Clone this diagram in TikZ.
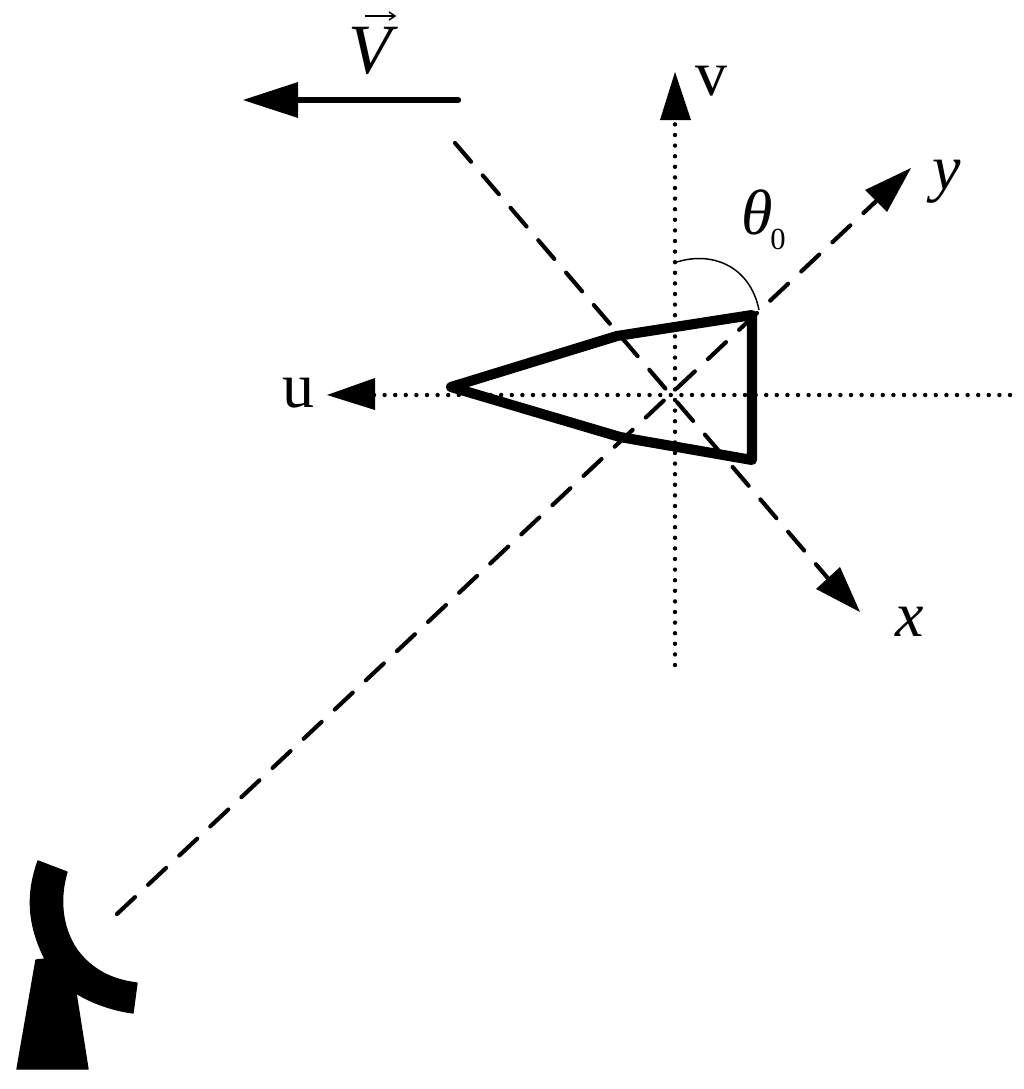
\documentclass[tikz,border=0pt]{standalone}
\usepackage{fontspec}
\setmainfont{Liberation Serif}
\usetikzlibrary{arrows.meta}
\tikzset{
  px/.style={x=0.75pt,y=-0.75pt},
  dashaxis/.style={line width=3.1pt,line cap=round,dash pattern=on 18.5pt off 13.5pt},
  dotaxis/.style={line width=3.3pt,line cap=round,dash pattern=on 0pt off 7.95pt},
  head/.style={fill=black,draw=none},
  lab/.style={inner sep=0pt,font=\fontsize{48}{48}\selectfont},
  wing/.style={line width=7.6pt,line join=round,line cap=round}
}
\begin{document}
\begin{tikzpicture}[px]
\useasboundingbox (0,0) rectangle (1024,1089);
\fill[white] (0,0) rectangle (1024,1089);
\coordinate (vTop) at (675,118);
\coordinate (vBot) at (675,665);
\coordinate (uL) at (372,395);
\coordinate (uR) at (1010,395);
\coordinate (yS) at (117,914);
\coordinate (yE) at (888,190);
\coordinate (xS) at (455,143);
\coordinate (xE) at (838,590);
% axes
\draw[dotaxis] (vBot) -- (vTop);
\draw[dotaxis] (uR) -- (uL);
\draw[dashaxis] (yS) -- (yE);
\draw[dashaxis] (xS) -- (xE);
% arrowheads
\fill[head] (675,72) -- (691,120) -- (660,120) -- cycle;
\fill[head] (327,395) -- (375,378) -- (375,410) -- cycle;
\fill[head] (911,168) -- (887,212) -- (865,190) -- cycle;
\fill[head] (860,612) -- (816,589) -- (840,567) -- cycle;
% velocity
\draw[line width=4.8pt,line cap=round] (458,100) -- (295,100);
\fill[head] (243,100) -- (298,82) -- (298,118) -- cycle;
% wedge
\draw[wing] (451,387) -- (617,336) -- (752,315) -- (752,460) -- (620,437) -- cycle;
% angle arc
\draw[line width=1.1pt] (674,263) .. controls (710,250) and (750,265) .. (759,310);
% radar
\fill[line join=round,draw=black,line width=1pt] (38,861) -- (67,872)
  .. controls (60,895) and (60,925) .. (77,950)
  .. controls (92,970) and (112,980) .. (137,983)
  -- (133,1013)
  .. controls (112,1010) and (92,1003) .. (76,993)
  -- (88,1069) -- (17,1069) -- (36,960) -- (45,959)
  .. controls (28,925) and (26,895) .. (38,861) -- cycle;
% labels
\node[lab,font=\fontsize{53}{53}\selectfont\itshape] (lV) at (370,51) {V};
\coordinate (vecL) at (365,16);
\coordinate (vecR) at (395,16);
\draw[line width=1.5pt] (vecL) -- (vecR);
\draw[line width=1.1pt] (389,12) -- (vecR) -- (389,20);
\node[lab] (lv) at (711,81) {v};
\node[lab] (lu) at (298,393) {u};
\node[lab] (ly) at (947,182) {\itshape y};
\node[lab] (lx) at (910,622) {\itshape x};
\node[lab,anchor=base west] (lt) at (741,234) {\itshape θ};
\node[lab,anchor=base west,font=\fontsize{23}{23}\selectfont] (lz) at (770,249) {0};
\end{tikzpicture}
\end{document}
